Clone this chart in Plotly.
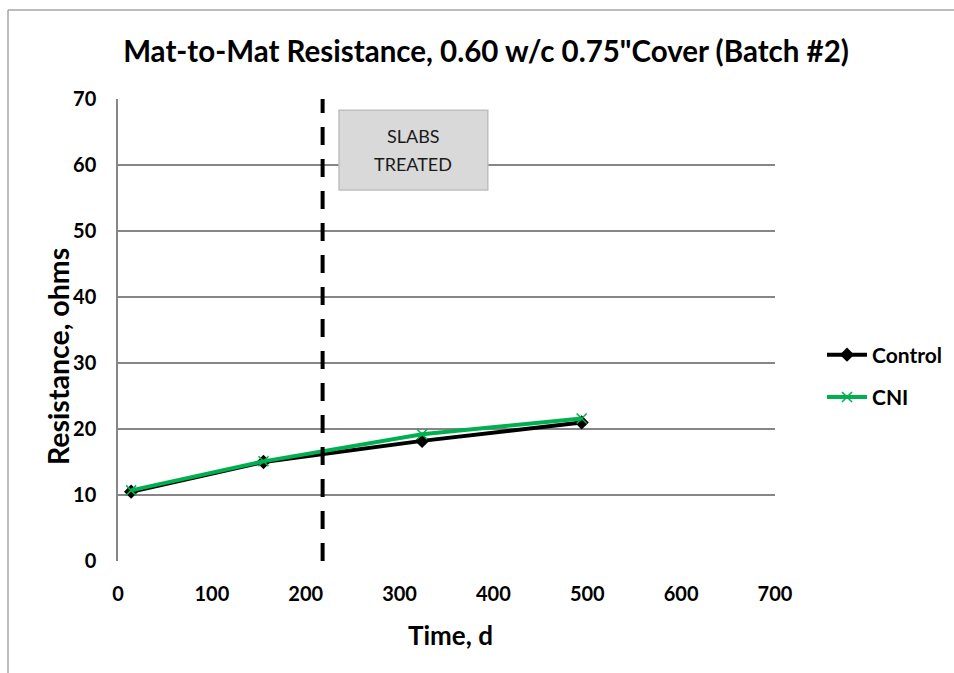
import plotly.graph_objects as go

time_control = [14, 155, 324, 494]
res_control = [10.5, 15.0, 18.2, 21.0]
time_cni = [14, 155, 324, 494]
res_cni = [10.7, 15.1, 19.2, 21.6]
treat_day = 218
x_ticks = [0, 100, 200, 300, 400, 500, 600, 700]
y_ticks = [0, 10, 20, 30, 40, 50, 60, 70]
box_lines = ["SLABS", "TREATED"]

FONT = "Lato"
W, H = 954, 673
L, T = 118, 99
PW, PH = 657, 462
R = W - L - PW
B = H - T - PH


def px(xpix):
    return (xpix - L) / PW


def py(ypix):
    return (T + PH - ypix) / PH


fig = go.Figure()
fig.add_trace(go.Scatter(
    x=time_control, y=res_control, name="Control", mode="lines+markers",
    legendgroup="a",
    line=dict(color="black", width=4),
    marker=dict(symbol="diamond", size=11, color="black"),
))
fig.add_trace(go.Scatter(
    x=time_cni, y=res_cni, name="CNI", mode="lines+markers",
    legendgroup="b",
    line=dict(color="#00b050", width=4),
    marker=dict(symbol="x-thin", size=10, line=dict(color="#00b050", width=1.5)),
))

# treatment line
fig.add_shape(type="line", x0=treat_day, x1=treat_day, y0=0, y1=70,
              xref="x", yref="y", line=dict(color="black", width=4, dash="18px,14px"))
# text box
fig.add_shape(type="rect", x0=235.5, x1=394, y0=56.2, y1=68.3, xref="x", yref="y",
              fillcolor="#d9d9d9", line=dict(color="#bfbfbf", width=1.5), layer="above")
for txt, yy in zip(box_lines, [64.4, 60.2]):
    fig.add_annotation(x=(235.5 + 394) / 2, y=yy, xref="x", yref="y",
                       text=txt, showarrow=False, yanchor="middle",
                       font=dict(family=FONT, size=18, color="#1a1a1a"))

# axis titles
fig.add_annotation(x=px(58), y=py(357), xref="paper", yref="paper",
                   text="<b>Resistance, ohms</b>", textangle=-90, showarrow=False,
                   xanchor="center", yanchor="middle",
                   font=dict(family=FONT, size=28.5, color="black"))
fig.add_annotation(x=px(450), y=py(635), xref="paper", yref="paper",
                   text="<b>Time, d</b>", showarrow=False,
                   xanchor="center", yanchor="middle",
                   font=dict(family=FONT, size=26, color="black"))

# outer chart border (left and top)
fig.add_shape(type="line", xref="paper", yref="paper",
              x0=px(8), x1=px(8), y0=py(673), y1=py(10),
              line=dict(color="#a6a6a6", width=1.5))
fig.add_shape(type="line", xref="paper", yref="paper",
              x0=px(8), x1=px(954), y0=py(10), y1=py(10),
              line=dict(color="#a6a6a6", width=1.5))

fig.update_layout(
    width=W, height=H,
    margin=dict(l=L, r=R, t=T, b=B),
    paper_bgcolor="white", plot_bgcolor="white",
    title=dict(text="<b>Mat-to-Mat Resistance, 0.60 w/c 0.75\"Cover (Batch #2)</b>",
               x=486 / W, xanchor="center", y=1 - 52 / H, yanchor="middle",
               font=dict(family=FONT, size=29.5, color="black")),
    font=dict(family=FONT, color="black"),
    legend=dict(x=822 / W, xref="container", y=1 - 376 / H, yref="container",
                yanchor="middle", xanchor="left",
                font=dict(family=FONT, size=21, color="black", weight="bold"),
                itemwidth=40, tracegroupgap=12, bgcolor="rgba(0,0,0,0)"),
    xaxis=dict(range=[0, 700], tickvals=x_ticks, showgrid=False, zeroline=False,
               showline=False, ticks="", ticklabelstandoff=19,
               tickfont=dict(family=FONT, size=20, color="black", weight="bold")),
    yaxis=dict(range=[0, 70], tickvals=y_ticks, showgrid=True, gridcolor="#868686",
               gridwidth=1.5, zeroline=False, showline=True, linecolor="#868686",
               linewidth=1.5, ticks="", ticklabelstandoff=16,
               tickfont=dict(family=FONT, size=20, color="black", weight="bold")),
)

fig.write_html(
    "out.html",
    config={"displayModeBar": False},
    post_script="document.body.style.margin='0';document.body.style.overflow='hidden';",
)
